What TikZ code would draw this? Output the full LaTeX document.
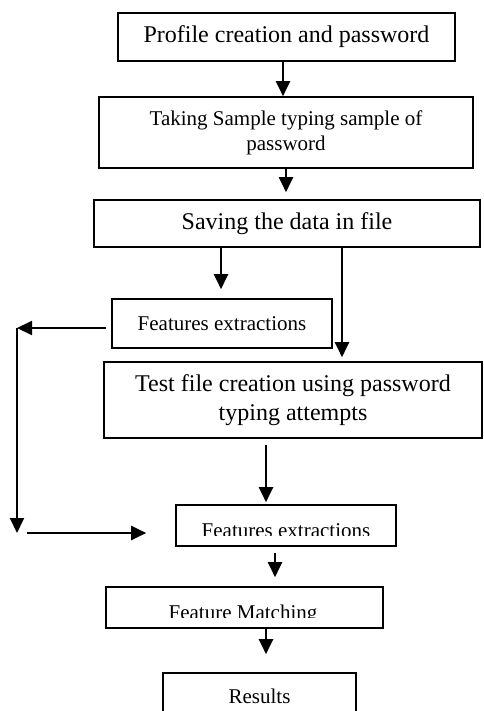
\documentclass[tikz,border=0pt]{standalone}
\usepackage{fontspec}
\setmainfont{Liberation Serif}
\usetikzlibrary{arrows.meta}

\tikzset{
  box/.style={draw=black, line width=1.6pt, inner sep=0pt, align=center, fill=white},
  big/.style={font=\fontsize{24}{29}\selectfont},
  small/.style={font=\fontsize{21}{25}\selectfont},
  arr/.style={line width=2pt, -{Triangle[length=15pt,width=14pt]}},
  plain/.style={line width=2pt}
}

\begin{document}
\begin{tikzpicture}[x=1pt,y=-1pt]
\useasboundingbox (0,0) rectangle (483,711);

% process boxes
\node[box, big,   minimum width=337pt, minimum height=48pt] (b1) at (286.5,37)  {Profile creation and password};
\node[box, small, minimum width=374pt, minimum height=71pt] (b2) at (286,132.5) {Taking Sample typing sample of\\password};
\node[box, big,   minimum width=386pt, minimum height=47pt] (b3) at (287,223.5) {Saving the data in file};
\node[box, small, minimum width=220pt, minimum height=49pt] (fe1) at (222,323.5) {Features extractions};
\node[box, big,   minimum width=378pt, minimum height=76pt] (tf) at (293,400)   {Test file creation using password\\typing attempts};
\node[box,        minimum width=220pt, minimum height=41pt] (fe2) at (286,525.5) {};
\node[box,        minimum width=277pt, minimum height=41pt] (fm) at (244.5,607.5) {};
\node[box, small, minimum width=193pt, minimum height=47pt] (res) at (259.5,696.5) {Results};

% labels whose lower edge is cut off by the text frame
\begin{scope}
  \clip (176,505) rectangle (396,535);
  \node[small, anchor=base, inner sep=0pt] (fe2t) at (286,537.5) {Features extractions};
\end{scope}
\begin{scope}
  \clip (106,587) rectangle (383,617);
  \node[small, anchor=base, inner sep=0pt] (fmt) at (243,619.5) {Feature Matching};
\end{scope}

% main flow
\draw[arr] ([xshift=-3.5pt]b1.south) -- ([xshift=-3pt]b2.north);
\draw[arr, shorten >=7pt] (b2.south) -- ([xshift=0pt]b2.south |- b3.north);
\draw[arr, shorten >=9pt] ([xshift=-66pt]b3.south) -- ([xshift=-1pt]fe1.north);
\draw[arr, shorten >=4pt] ([xshift=55pt]b3.south) -- ([xshift=49pt]tf.north);
\draw[arr, shorten <=6pt, shorten >=2pt] ([xshift=-27pt]tf.south) -- ([xshift=-20pt]fe2.north);
\draw[arr, shorten <=6pt, shorten >=9pt] ([xshift=-11pt]fe2.south) -- ([xshift=30.5pt]fm.north);
\draw[arr, shorten >=18pt] ([xshift=21.5pt]fm.south) -- ([xshift=6.5pt]res.north);

% loop from the training features down to the test features
\coordinate (c1) at (17,328);
\coordinate (c2) at (17,533);
\draw[arr, shorten <=5pt] (fe1.west |- c1) -- (c1);
\draw[arr] (c1) -- (c2);
\draw[arr, shorten <=10pt, shorten >=29pt] (c2) -- (c2 -| fe2.west);
\end{tikzpicture}
\end{document}
